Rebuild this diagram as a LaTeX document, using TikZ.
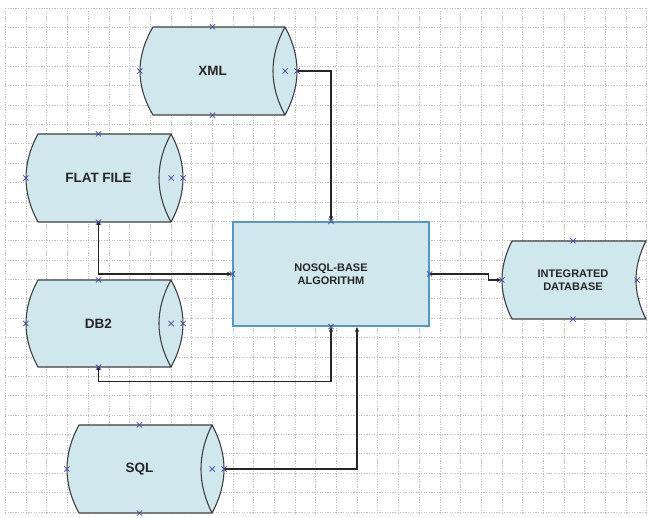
\documentclass[tikz,border=0pt]{standalone}
\usepackage{fontspec}
\setmainfont{Liberation Sans}
\usetikzlibrary{arrows.meta,shapes.misc}
\definecolor{cylfill}{RGB}{208,231,238}
\definecolor{boxedge}{RGB}{84,150,196}
\definecolor{mk}{RGB}{72,72,160}
\definecolor{txt}{RGB}{38,38,38}
\definecolor{gridc}{RGB}{192,192,192}
\definecolor{outl}{RGB}{64,64,64}
% shallow arc from (#1,#2) to (#1,#3), bulging horizontally by #4 (pointed ends)
\newcommand\ellarc[4]{.. controls ({#1+1.3333*(#4)},{#2+((#3)-(#2))/3}) and ({#1+1.3333*(#4)},{#3-((#3)-(#2))/3}) .. (#1,#3)}
\tikzset{
  shapeline/.style={draw=outl, line width=1.1pt, fill=cylfill, line join=miter},
  innerline/.style={draw=outl, line width=1.1pt},
  anchorbox/.style={rectangle, inner sep=0pt, text=txt, align=center,
    font=\bfseries\fontsize{13.5}{15}\selectfont},
  smalltext/.style={font=\bfseries\fontsize{11}{12.5}\selectfont},
  conn/.style={draw=black!85, line width=1.1pt,
    {Square[length=2.4pt,width=2.4pt]}-{Latex[length=5pt,width=4.5pt]}},
  xmk/.style={cross out, draw=mk, line width=0.7pt, minimum size=4.5pt, inner sep=0pt},
  gridline/.style={draw=gridc, line width=0.5pt, dash pattern=on 1.3pt off 1.3pt},
}
\begin{document}
\begin{tikzpicture}[x=1pt,y=-1pt]
\fill[white] (0,0) rectangle (649,518);
\useasboundingbox (0,0) rectangle (649,518);
% grid
\foreach \i in {0,...,31} \draw[gridline] ({5.3+20.69*\i},8) -- ({5.3+20.69*\i},514);
\foreach \j in {0,...,26} \draw[gridline] (5,{8+19.38*\j}) -- (647,{8+19.38*\j});
% cylinder outlines
\path[shapeline] (153,27) -- (285,27) \ellarc{285}{27}{115}{12} -- (153,115) \ellarc{153}{115}{27}{-13} -- cycle;
\draw[innerline] (285,27) \ellarc{285}{27}{115}{-12};
\path[shapeline] (38,134) -- (171,134) \ellarc{171}{134}{222}{12} -- (38,222) \ellarc{38}{222}{134}{-12} -- cycle;
\draw[innerline] (171,134) \ellarc{171}{134}{222}{-12};
\path[shapeline] (38,280) -- (171,280) \ellarc{171}{280}{367}{12} -- (38,367) \ellarc{38}{367}{280}{-12} -- cycle;
\draw[innerline] (171,280) \ellarc{171}{280}{367}{-12};
\path[shapeline] (79,425) -- (212,425) \ellarc{212}{425}{513}{12} -- (79,513) \ellarc{79}{513}{425}{-12} -- cycle;
\draw[innerline] (212,425) \ellarc{212}{425}{513}{-11};
% integrated database (stored data)
\path[shapeline] (512,241) -- (646,241) \ellarc{646}{241}{319}{-10} -- (512,319) \ellarc{512}{319}{241}{-10} -- cycle;
% nodes
\node[anchorbox, minimum width=145pt, minimum height=88pt] (xml) at (212.5,71) {XML};
\node[anchorbox, minimum width=145pt, minimum height=88pt] (flat) at (98.5,178) {FLAT FILE};
\node[anchorbox, minimum width=145pt, minimum height=87pt] (db2) at (98.5,323.5) {DB2};
\node[anchorbox, minimum width=145pt, minimum height=88pt] (sql) at (139.5,469) {SQL};
\node[anchorbox, smalltext, minimum width=142pt, minimum height=78pt] (integ) at (573,280) {INTEGRATED\\DATABASE};
\node[anchorbox, smalltext, draw=boxedge, fill=cylfill, line width=1.1pt,
      minimum width=196pt, minimum height=104pt] (nosql) at (331,274) {NOSQL-BASE\\ALGORITHM};
% connectors
\draw[conn] ([xshift=12pt]xml.east) -| (nosql.north);
\draw[conn] (flat.south) |- (nosql.west);
\draw[conn] (db2.south) -- ++(0,14) -| (nosql.south);
\draw[conn] ([xshift=12pt]sql.east) -| ([xshift=26pt]nosql.south);
\draw[conn] (nosql.east) -- ++(59,0) |- (integ.west);
% connection markers
\foreach \p in {xml.north, xml.south, xml.west, xml.east,
                flat.north, flat.south, flat.west, flat.east,
                db2.north, db2.south, db2.west, db2.east,
                sql.north, sql.south, sql.west, sql.east,
                nosql.north, nosql.south, nosql.west, nosql.east,
                integ.north, integ.south, integ.west}
  \node[xmk] at (\p) {};
\foreach \p in {xml, flat, db2, sql}
  \node[xmk] at ([xshift=12pt]\p.east) {};
\node[xmk] at ([xshift=-7pt]integ.east) {};
\end{tikzpicture}
\end{document}
